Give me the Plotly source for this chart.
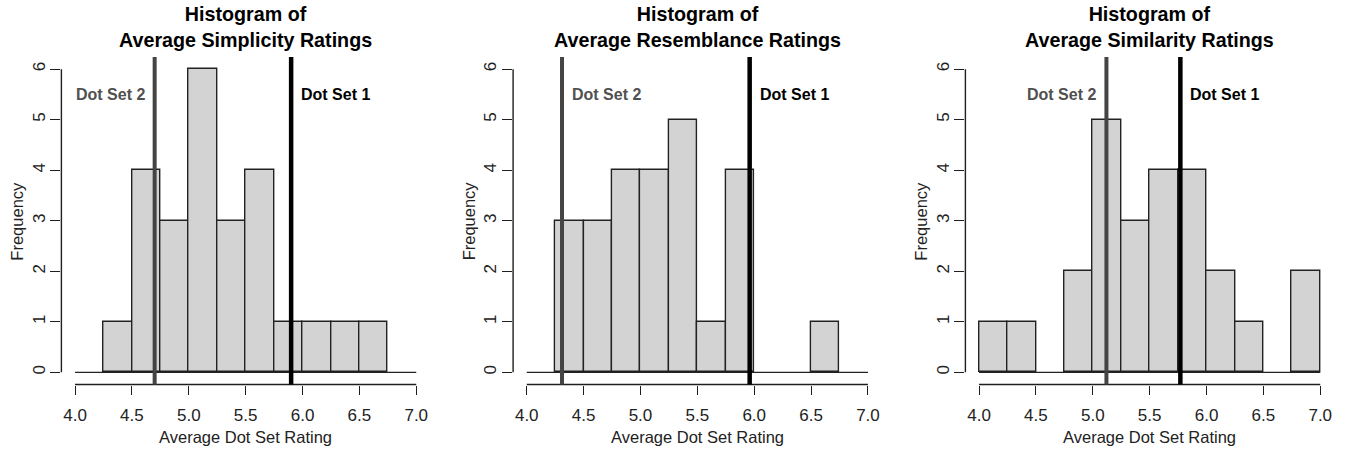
import plotly.graph_objects as go

# ---------------- data ----------------
bin_edges = [4.0, 4.25, 4.5, 4.75, 5.0, 5.25, 5.5, 5.75, 6.0, 6.25, 6.5, 6.75, 7.0]
panel_titles = ["Average Simplicity Ratings", "Average Resemblance Ratings", "Average Similarity Ratings"]
counts_simplicity = [0, 1, 4, 3, 6, 3, 4, 1, 1, 1, 1, 0]
counts_resemblance = [0, 3, 3, 4, 4, 5, 1, 4, 0, 0, 1, 0]
counts_similarity = [1, 1, 0, 2, 5, 3, 4, 4, 2, 1, 0, 2]
dot_set_1 = [5.90, 5.96, 5.77]
dot_set_2 = [4.70, 4.31, 5.12]
dot_set_2_label_side = ["left", "right", "left"]
label_y = 5.5
x_ticks = [4.0, 4.5, 5.0, 5.5, 6.0, 6.5, 7.0]
x_tick_text = ["4.0", "4.5", "5.0", "5.5", "6.0", "6.5", "7.0"]
y_ticks = [0, 1, 2, 3, 4, 5, 6]
x_title = "Average Dot Set Rating"
y_title = "Frequency"

all_counts = [counts_simplicity, counts_resemblance, counts_similarity]

# ---------------- layout geometry (pixels) ----------------
W, H = 1347, 453
FONT = "Liberation Sans, Arial, Helvetica, sans-serif"
panel_left_px = [61.4, 513.1, 965.4]
panel_w_px = 368.5
top_px, bottom_px = 57.0, 384.5

xlo = x_ticks[0] - 0.04 * (x_ticks[-1] - x_ticks[0])
xhi = x_ticks[-1] + 0.04 * (x_ticks[-1] - x_ticks[0])
ylo = y_ticks[0] - 0.04 * (y_ticks[-1] - y_ticks[0])
yhi = y_ticks[-1] + 0.04 * (y_ticks[-1] - y_ticks[0])

fig = go.Figure()
shapes = []
annotations = []
axis_color = "#1e1e1e"

for i in range(3):
    n = "" if i == 0 else str(i + 1)
    xa, ya = "x" + n, "y" + n
    counts = all_counts[i]
    centers = [(bin_edges[k] + bin_edges[k + 1]) / 2 for k in range(len(counts)) if counts[k] > 0]
    vals = [c for c in counts if c > 0]
    widths = [bin_edges[k + 1] - bin_edges[k] for k in range(len(counts)) if counts[k] > 0]
    fig.add_trace(go.Bar(
        x=centers, y=vals, width=widths, xaxis=xa, yaxis=ya,
        marker=dict(color="#d3d3d3", line=dict(color="#222222", width=1.4)),
        showlegend=False, hoverinfo="x+y",
    ))

    x0 = panel_left_px[i] / W
    x1 = (panel_left_px[i] + panel_w_px) / W
    y0 = 1 - bottom_px / H
    y1 = 1 - top_px / H
    fig.layout["xaxis" + n] = dict(
        domain=[x0, x1], range=[xlo, xhi], anchor=ya,
        tickvals=x_ticks, ticktext=x_tick_text, ticks="outside", ticklen=9,
        tickwidth=1.4, tickcolor=axis_color, showline=False, showgrid=False,
        zeroline=False, tickfont=dict(family=FONT, size=17, color="#222222"),
        ticklabelstandoff=6,
    )
    fig.layout["yaxis" + n] = dict(
        domain=[y0, y1], range=[ylo, yhi], anchor=xa,
        tickvals=y_ticks, ticks="outside", ticklen=10, tickwidth=1.4,
        tickcolor=axis_color, showline=False, showgrid=False, zeroline=False,
        tickangle=-90, tickfont=dict(family=FONT, size=17, color="#222222"),
        ticklabelstandoff=-1,
    )

    # R-style axis lines spanning only the tick range
    shapes.append(dict(type="line", xref=xa + " domain", yref=ya, x0=0, x1=0,
                       y0=y_ticks[0], y1=y_ticks[-1], line=dict(color=axis_color, width=1.4)))
    shapes.append(dict(type="line", xref=xa, yref=ya + " domain", x0=x_ticks[0], x1=x_ticks[-1],
                       y0=0, y1=0, line=dict(color=axis_color, width=1.4)))
    # histogram baseline
    shapes.append(dict(type="line", xref=xa, yref=ya, x0=bin_edges[0], x1=bin_edges[-1],
                       y0=0, y1=0, line=dict(color="#222222", width=1.4), layer="above"))
    # vertical reference lines
    shapes.append(dict(type="line", xref=xa, yref=ya + " domain", x0=dot_set_2[i], x1=dot_set_2[i],
                       y0=0, y1=1, line=dict(color="#444444", width=4), layer="above"))
    shapes.append(dict(type="line", xref=xa, yref=ya + " domain", x0=dot_set_1[i], x1=dot_set_1[i],
                       y0=0, y1=1, line=dict(color="#000000", width=4.5), layer="above"))

    # labels
    side = dot_set_2_label_side[i]
    annotations.append(dict(
        xref=xa, yref=ya, x=dot_set_2[i], y=label_y, text="<b>Dot Set 2</b>",
        showarrow=False, xanchor="right" if side == "left" else "left",
        xshift=-8 if side == "left" else 8, yanchor="middle",
        font=dict(family=FONT, size=16, color="#505050"),
    ))
    annotations.append(dict(
        xref=xa, yref=ya, x=dot_set_1[i], y=label_y, text="<b>Dot Set 1</b>",
        showarrow=False, xanchor="left", xshift=8, yanchor="middle",
        font=dict(family=FONT, size=16, color="#000000"),
    ))
    # title
    annotations.append(dict(
        xref=xa + " domain", yref="paper", x=0.5, y=1 - 27 / H,
        text="<b>Histogram of<br>" + panel_titles[i] + "</b>", showarrow=False,
        xanchor="center", yanchor="middle",
        font=dict(family=FONT, size=19.7, color="#000000"),
    ))
    # axis titles
    annotations.append(dict(
        xref=xa + " domain", yref="paper", x=0.5, y=1 - 437 / H, text=x_title,
        showarrow=False, xanchor="center", yanchor="middle",
        font=dict(family=FONT, size=16.5, color="#222222"),
    ))
    annotations.append(dict(
        xref="paper", yref=ya + " domain", x=(panel_left_px[i] - 44.5) / W, y=0.5,
        text=y_title, textangle=-90, showarrow=False, xanchor="center", yanchor="middle",
        font=dict(family=FONT, size=16.5, color="#222222"),
    ))

fig.update_layout(
    width=W, height=H, margin=dict(l=0, r=0, t=0, b=0),
    paper_bgcolor="white", plot_bgcolor="white",
    shapes=shapes, annotations=annotations, bargap=0,
)

fig.write_html("out.html")
